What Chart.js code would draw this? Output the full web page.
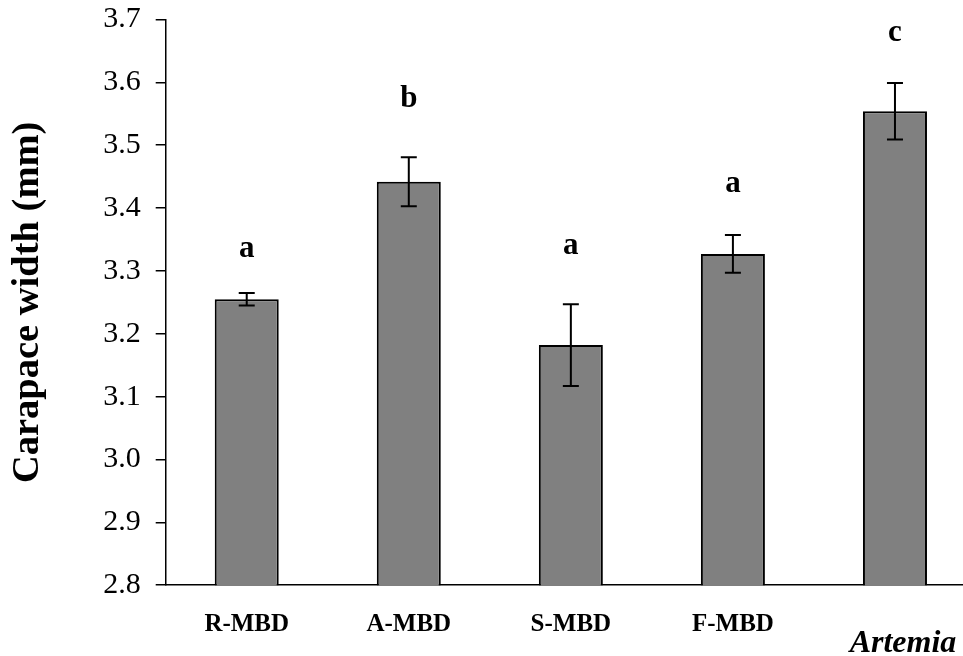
<!DOCTYPE html>
<html>
<head>
<meta charset="utf-8">
<script src="https://cdn.jsdelivr.net/npm/chart.js@4"></script>
<style>
  html, body { margin: 0; padding: 0; background: #fff; overflow: hidden; }
  #wrap { width: 976px; height: 656px; }
</style>
</head>
<body>
<div id="wrap"><canvas id="c" width="976" height="656"></canvas></div>
<script>
const categories = ['R-MBD', 'A-MBD', 'S-MBD', 'F-MBD', 'Artemia'];
const means = [3.255, 3.442, 3.182, 3.327, 3.554];
const errors = [0.010, 0.039, 0.065, 0.030, 0.045];
const groupLetters = ['a', 'b', 'a', 'a', 'c'];
const letterValues = [3.335, 3.574, 3.340, 3.439, 3.678];
const yTickMin = 2.8, yTickMax = 3.7, yTickStep = 0.1;

const SERIF = '"Liberation Serif", "Times New Roman", serif';

const errorBarPlugin = {
  id: 'errorBars',
  afterDatasetsDraw(chart) {
    const ctx = chart.ctx;
    const meta = chart.getDatasetMeta(0);
    const y = chart.scales.y;
    ctx.save();
    ctx.strokeStyle = '#000';
    ctx.lineWidth = 2;
    meta.data.forEach((bar, i) => {
      const x = bar.x;
      const yt = y.getPixelForValue(means[i] + errors[i]);
      const yb = y.getPixelForValue(means[i] - errors[i]);
      ctx.beginPath();
      ctx.moveTo(x, yt); ctx.lineTo(x, yb);
      ctx.moveTo(x - 8, yt); ctx.lineTo(x + 8, yt);
      ctx.moveTo(x - 8, yb); ctx.lineTo(x + 8, yb);
      ctx.stroke();
    });
    ctx.fillStyle = '#000';
    ctx.font = 'bold 31px ' + SERIF;
    ctx.textAlign = 'center';
    ctx.textBaseline = 'middle';
    meta.data.forEach((bar, i) => {
      ctx.fillText(groupLetters[i], bar.x, y.getPixelForValue(letterValues[i]));
    });
    ctx.restore();
  }
};

new Chart(document.getElementById('c'), {
  type: 'bar',
  data: {
    labels: categories,
    datasets: [{
      data: means,
      backgroundColor: '#808080',
      borderColor: '#000',
      borderWidth: 2,
      barPercentage: 0.395,
      categoryPercentage: 1.0
    }]
  },
  options: {
    responsive: false,
    animation: false,
    events: [],
    layout: { padding: { left: 5, top: 0, right: 0, bottom: -15 } },
    plugins: { legend: { display: false }, tooltip: { enabled: false } },
    scales: {
      x: {
        grid: { display: false },
        border: { display: true, color: '#000', width: 1.5 },
        ticks: {
          color: '#000',
          padding: 16.5,
          font: (c) => c.index === 4
            ? { family: SERIF, size: 32, weight: 'bold', style: 'italic', lineHeight: 0.7 }
            : { family: SERIF, size: 25, weight: 'bold', lineHeight: 1.2 },
          callback: function (v, i) {
            const lab = this.getLabelForValue(v);
            return i === 4 ? ['', '\u00A0\u00A0' + lab] : lab;
          }
        }
      },
      y: {
        min: yTickMin,
        max: yTickMax,
        border: { display: true, color: '#000', width: 1.5 },
        grid: { display: true, drawOnChartArea: false, tickLength: 10, color: '#000', lineWidth: 1.5 },
        ticks: {
          stepSize: yTickStep,
          color: '#000',
          padding: 15,
          font: { family: SERIF, size: 30, lineHeight: 0.3 },
          callback: (v) => Number(v).toFixed(1)
        },
        title: {
          display: true,
          text: 'Carapace width (mm)',
          color: '#000',
          font: { family: SERIF, size: 38.5, weight: 'bold', lineHeight: 1.2 },
          padding: { top: 0, bottom: 37 }
        }
      }
    }
  },
  plugins: [errorBarPlugin]
});
</script>
</body>
</html>
